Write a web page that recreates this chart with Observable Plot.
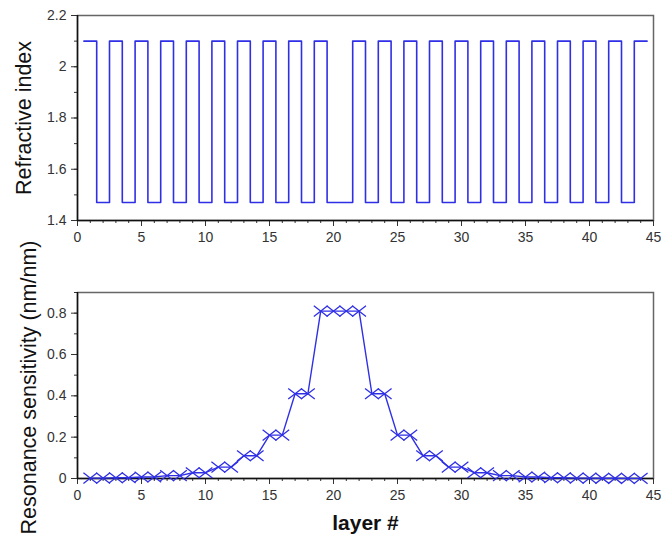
<!DOCTYPE html>
<html><head><meta charset="utf-8">
<script src="https://cdn.jsdelivr.net/npm/d3@7"></script>
<script src="https://cdn.jsdelivr.net/npm/@observablehq/plot@0.6"></script>
<style>body{margin:0;background:#fff;} #chart svg{display:block;overflow:visible;}</style>
</head><body><div id="chart"></div>
<script>
const layers = [1,2,3,4,5,6,7,8,9,10,11,12,13,14,15,16,17,18,19,20,21,22,23,24,25,26,27,28,29,30,31,32,33,34,35,36,37,38,39,40,41,42,43,44];
const refractiveIndex = [2.1,1.47,2.1,1.47,2.1,1.47,2.1,1.47,2.1,1.47,2.1,1.47,2.1,1.47,2.1,1.47,2.1,1.47,2.1,1.47,1.47,2.1,1.47,2.1,1.47,2.1,1.47,2.1,1.47,2.1,1.47,2.1,1.47,2.1,1.47,2.1,1.47,2.1,1.47,2.1,1.47,2.1,1.47,2.1];
const sensitivity = [0.0018,0.0018,0.0035,0.0035,0.007,0.007,0.014,0.014,0.028,0.028,0.055,0.055,0.11,0.11,0.21,0.21,0.41,0.41,0.81,0.81,0.81,0.81,0.41,0.41,0.21,0.21,0.11,0.11,0.055,0.055,0.028,0.028,0.014,0.014,0.007,0.007,0.0035,0.0035,0.0018,0.0018,0.0009,0.0009,0.0005,0.0005];
const xTicks = [0,5,10,15,20,25,30,35,40,45];
const xMinorTicks = d3.range(0, 46, 1);
const indexTicks = [1.4,1.6,1.8,2,2.2];
const indexMinorTicks = [1.4,1.5,1.6,1.7,1.8,1.9,2,2.1,2.2];
const sensTicks = [0,0.2,0.4,0.6,0.8];
const sensMinorTicks = [0,0.1,0.2,0.3,0.4,0.5,0.6,0.7,0.8,0.9];

const blue = "#2f2fe6";
const font = "'Liberation Sans', Arial, sans-serif";

const stepPts = layers.map((l, i) => ({x: l - 0.5, y: refractiveIndex[i]}));
stepPts.push({x: layers[layers.length - 1] + 0.5, y: refractiveIndex[refractiveIndex.length - 1]});
const sensPts = layers.map((l, i) => ({x: l, y: sensitivity[i]}));

const wideX = {draw(ctx, size) {
  const r = Math.sqrt(size / Math.PI);
  const w = r * 1.3;
  ctx.moveTo(-w, -r); ctx.lineTo(w, r);
  ctx.moveTo(-w, r); ctx.lineTo(w, -r);
}};

const axisStyle = {color: "#333", fontSize: 14, label: null};

const topPlot = Plot.plot({
  width: 661, height: 255,
  marginLeft: 77, marginRight: 8, marginTop: 15, marginBottom: 35,
  style: {fontFamily: font, background: "#fff", overflow: "visible"},
  x: {domain: [0, 45]},
  y: {domain: [1.4, 2.2]},
  marks: [
    Plot.frame({stroke: "#666", strokeWidth: 1.5}),
    Plot.axisX(xTicks, {...axisStyle, tickSize: 6, tickPadding: 6}),
    Plot.axisX(xMinorTicks, {...axisStyle, tickSize: 3, tickFormat: () => ""}),
    Plot.axisY(indexTicks, {...axisStyle, tickSize: 6, tickPadding: 5, tickFormat: d => String(d)}),
    Plot.axisY(indexMinorTicks, {...axisStyle, tickSize: 3, tickFormat: () => ""}),
    Plot.ruleX([0], {stroke: "#111", strokeWidth: 1.5}),
    Plot.ruleY([1.4], {stroke: "#111", strokeWidth: 1.5}),
    Plot.line(stepPts, {x: "x", y: "y", curve: "step-after", stroke: blue, strokeWidth: 1.6}),
    Plot.text(["Refractive index"], {frameAnchor: "left", textAnchor: "middle", rotate: -90, dx: -53, fontSize: 21.5, fill: "#111"})
  ]
});

const bottomPlot = Plot.plot({
  width: 661, height: 288,
  marginLeft: 77, marginRight: 8, marginTop: 37, marginBottom: 65,
  style: {fontFamily: font, background: "transparent", overflow: "visible"},
  x: {domain: [0, 45]},
  y: {domain: [0, 0.9]},
  marks: [
    Plot.frame({stroke: "#666", strokeWidth: 1.5}),
    Plot.axisX(xTicks, {...axisStyle, tickSize: 6, tickPadding: 6}),
    Plot.axisX(xMinorTicks, {...axisStyle, tickSize: 3, tickFormat: () => ""}),
    Plot.axisY(sensTicks, {...axisStyle, tickSize: 6, tickPadding: 5, tickFormat: d => String(d)}),
    Plot.axisY(sensMinorTicks, {...axisStyle, tickSize: 3, tickFormat: () => ""}),
    Plot.ruleX([0], {stroke: "#111", strokeWidth: 1.5}),
    Plot.ruleY([0], {stroke: "#111", strokeWidth: 1.5}),
    Plot.line(sensPts, {x: "x", y: "y", stroke: blue, strokeWidth: 1.4}),
    Plot.dot(sensPts, {x: "x", y: "y", symbol: wideX, r: 5.3, stroke: blue, strokeWidth: 1.3, fill: "none"}),
    Plot.text(["Resonance sensitivity (nm/nm)"], {frameAnchor: "left", textAnchor: "middle", rotate: -90, dx: -48, dy: 2, fontSize: 21.5, fill: "#111"}),
    Plot.text(["layer #"], {frameAnchor: "bottom", dy: 51, fontSize: 21, fontWeight: "bold", fill: "#111"})
  ]
});

document.getElementById("chart").append(topPlot, bottomPlot);
</script>
</body></html>
